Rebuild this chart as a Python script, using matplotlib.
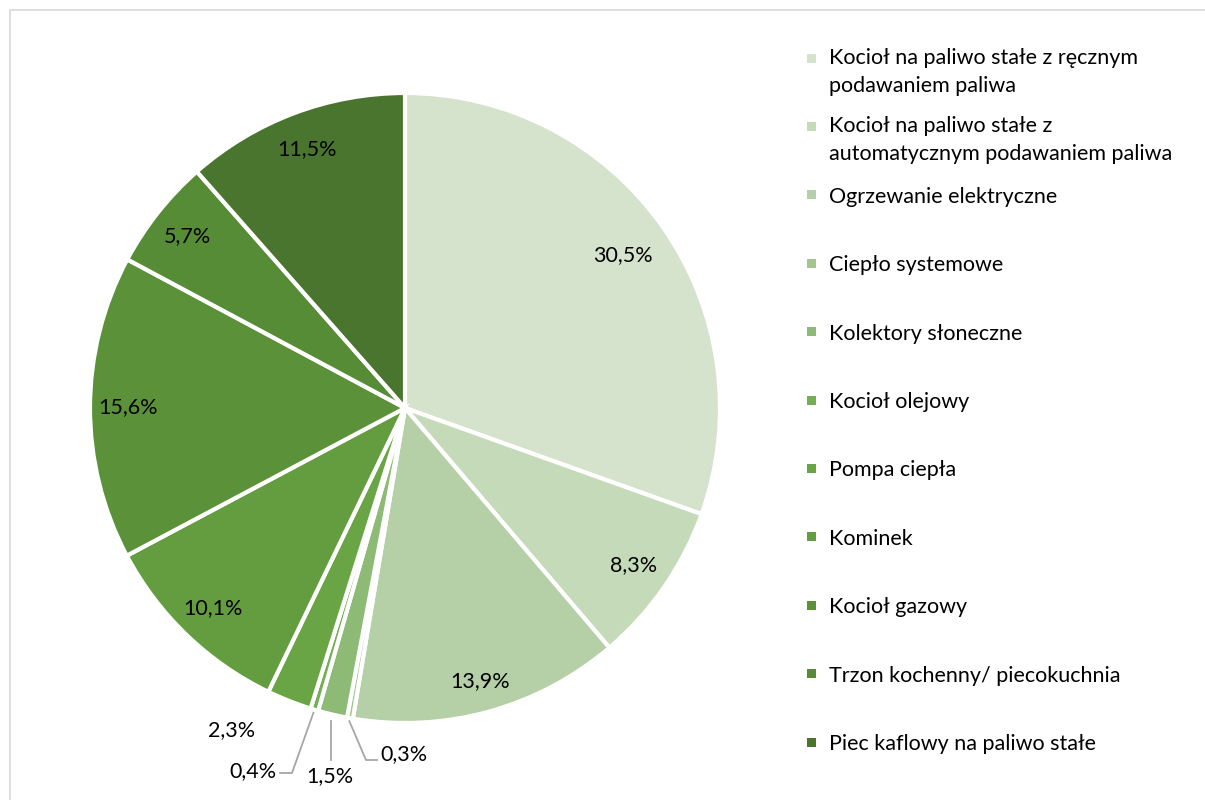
import matplotlib.pyplot as plt
import numpy as np
from matplotlib.patches import Rectangle

plt.rcParams['font.family'] = ['Lato', 'DejaVu Sans']

categories = [
    "Kocioł na paliwo stałe z ręcznym\npodawaniem paliwa",
    "Kocioł na paliwo stałe z\nautomatycznym podawaniem paliwa",
    "Ogrzewanie elektryczne",
    "Ciepło systemowe",
    "Kolektory słoneczne",
    "Kocioł olejowy",
    "Pompa ciepła",
    "Kominek",
    "Kocioł gazowy",
    "Trzon kochenny/ piecokuchnia",
    "Piec kaflowy na paliwo stałe",
]
shares = [30.5, 8.3, 13.9, 0.3, 1.5, 0.4, 2.3, 10.1, 15.6, 5.7, 11.5]
colors = ["#D5E2CC", "#C5DAB8", "#B5D0A6", "#A3C68F", "#8DBA74", "#76AE55",
          "#6AA545", "#649C40", "#5B9239", "#578C36", "#4A752E"]

W, H = 1205, 800
fig = plt.figure(figsize=(W / 100, H / 100), dpi=100)

# light frame around the chart area
fig.patches.append(Rectangle((10 / W, -0.01), 1.2, 1 - 10 / H + 0.01, transform=fig.transFigure,
                             fill=False, edgecolor="#D9D9D9", linewidth=1.2))

cx, cy, r = 405, 408, 315
ax = fig.add_axes([(cx - r) / W, (H - cy - r) / H, 2 * r / W, 2 * r / H])
wedges, _ = ax.pie(shares, colors=colors, startangle=90, counterclock=False, radius=1,
                   wedgeprops=dict(edgecolor="white", linewidth=3))
ax.set_xlim(-1, 1)
ax.set_ylim(-1, 1)
ax.set_aspect("equal")
ax.axis("off")

labels = [f"{v:.1f}%".replace(".", ",") for v in shares]
cum = np.cumsum(shares) - np.array(shares) / 2
mid = np.radians(90 - cum / sum(shares) * 360)

fs = 15.5
dist = {0: 0.845, 1: 0.88, 2: 0.9, 7: 0.88, 8: 0.88, 9: 0.88, 10: 0.88}
for i, d in dist.items():
    ax.text(d * np.cos(mid[i]), d * np.sin(mid[i]), labels[i], ha="center", va="center", fontsize=fs)

# small slices: labels pulled outside with leader lines
def px(x, y):
    return (x - cx) / r, (cy - y) / r

line_kw = dict(color="#A6A6A6", linewidth=1.3)
# 0,3%
e = (np.cos(mid[3]) * 1.01, np.sin(mid[3]) * 1.01)
p1, p2 = px(366, 760), px(377, 760)
ax.plot([e[0], p1[0], p2[0]], [e[1], p1[1], p2[1]], clip_on=False, **line_kw)
ax.text(*px(380, 754), labels[3], ha="left", va="center", fontsize=fs)
# 1,5%
e = (np.cos(mid[4]) * 1.02, np.sin(mid[4]) * 1.02)
p1 = (e[0], px(0, 760)[1])
ax.plot([e[0], p1[0]], [e[1], p1[1]], clip_on=False, **line_kw)
ax.text(*px(330, 776), labels[4], ha="center", va="center", fontsize=fs)
# 0,4%
e = (np.cos(mid[5]) * 1.01, np.sin(mid[5]) * 1.01)
p1, p2 = px(292, 773), px(280, 773)
ax.plot([e[0], p1[0], p2[0]], [e[1], p1[1], p2[1]], clip_on=False, **line_kw)
ax.text(*px(276, 771), labels[5], ha="right", va="center", fontsize=fs)
# 2,3%
ax.text(*px(232, 730), labels[6], ha="center", va="center", fontsize=fs)

# legend on the right
ys = np.linspace(58, 742, len(categories))
for cat, col, y in zip(categories, colors, ys):
    fig.patches.append(Rectangle(((812 - 4.5) / W, (H - y - 4.5) / H), 9 / W, 9 / H,
                                 transform=fig.transFigure, facecolor=col, edgecolor="none"))
    if "\n" in cat:
        fig.text(829 / W, (H - y + 10) / H, cat, ha="left", va="top", fontsize=fs,
                 linespacing=1.5)
    else:
        fig.text(829 / W, (H - y) / H, cat, ha="left", va="center_baseline", fontsize=fs)

fig.savefig("out.png", dpi=100)
